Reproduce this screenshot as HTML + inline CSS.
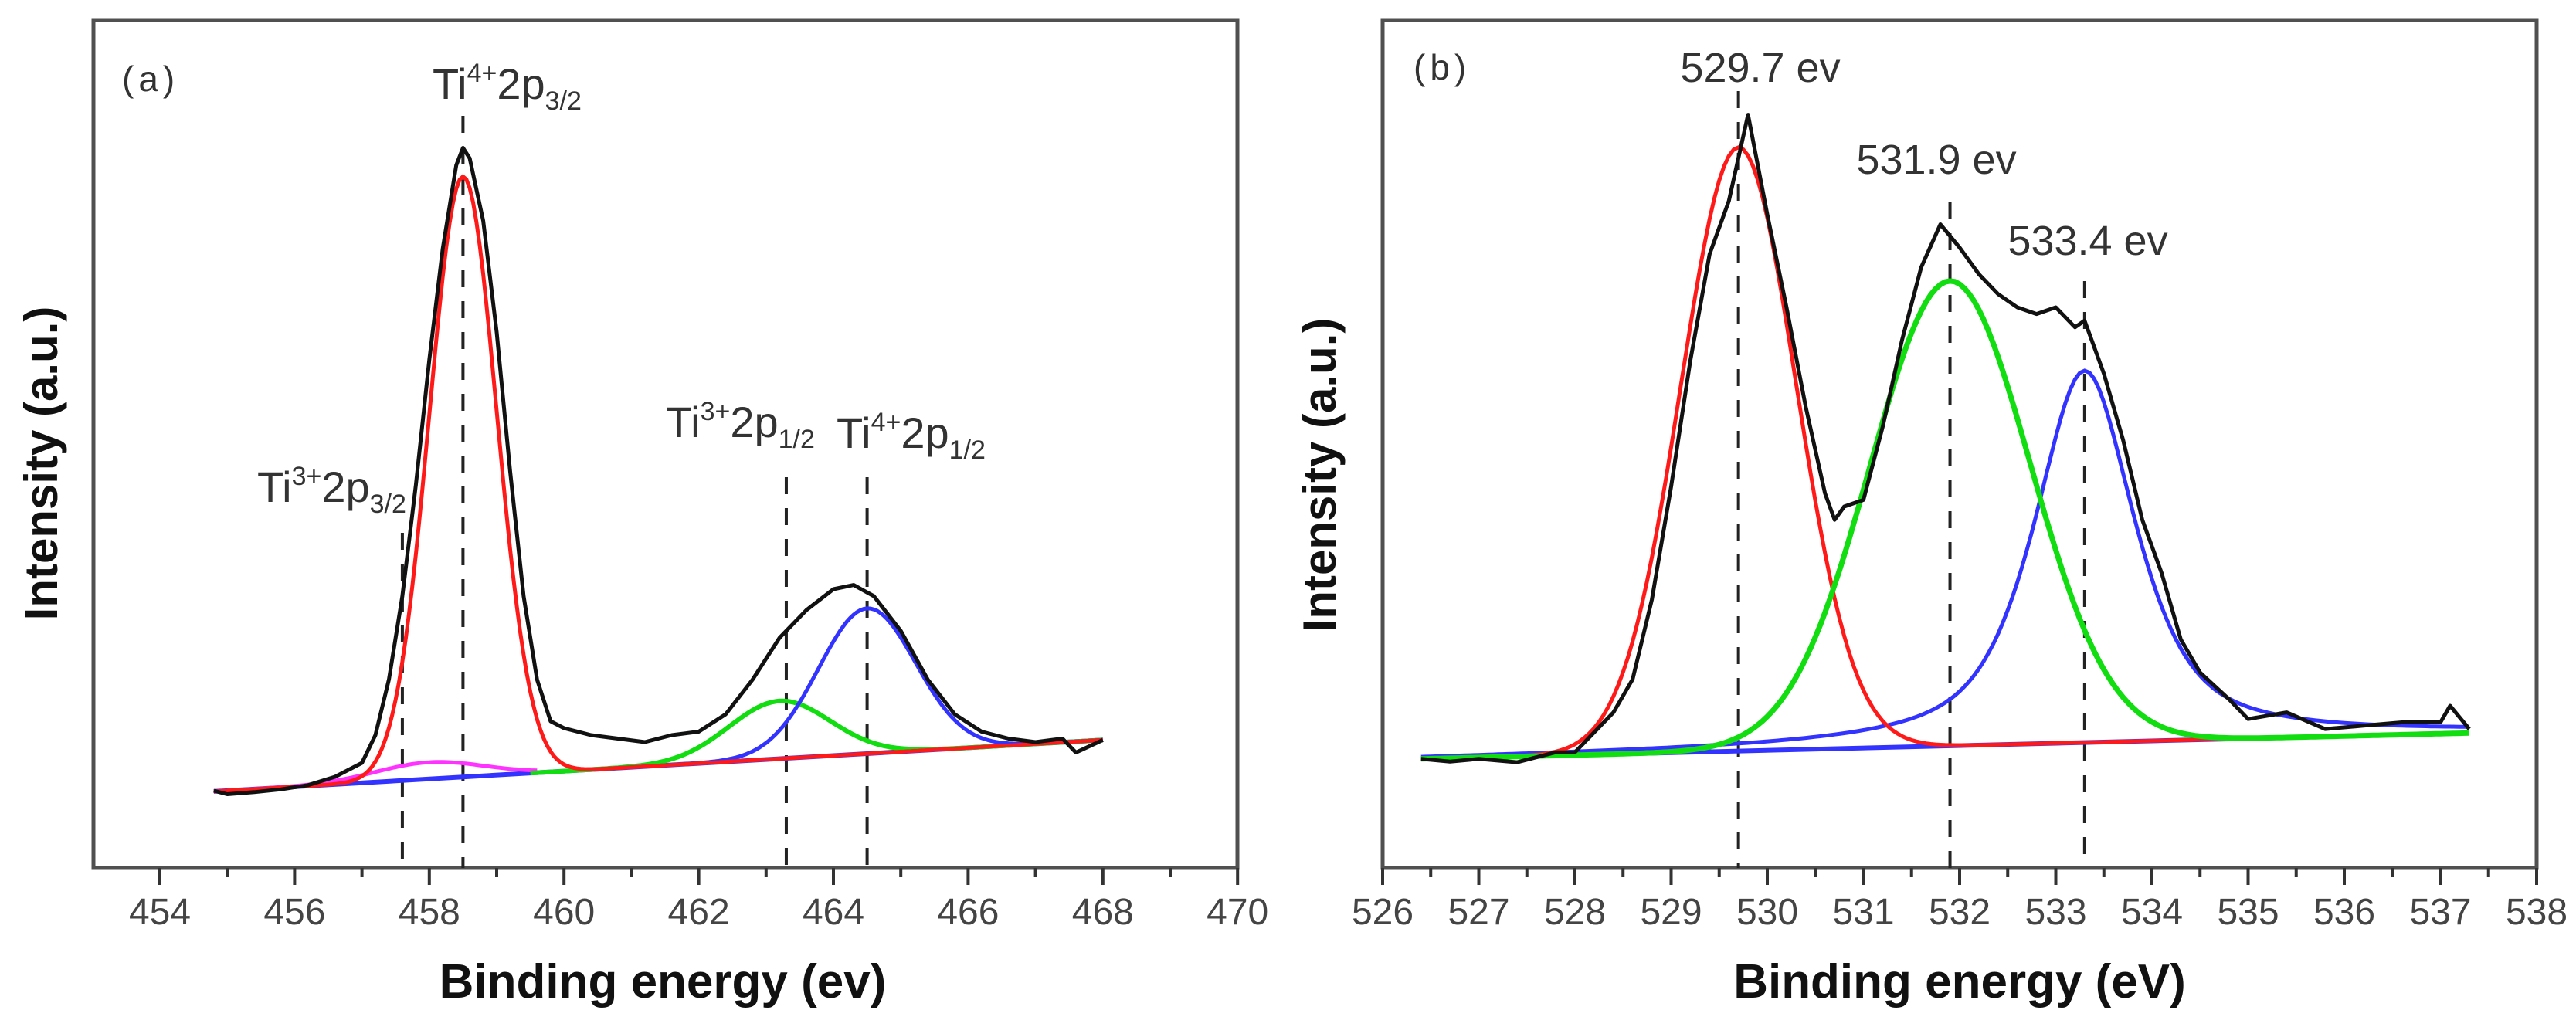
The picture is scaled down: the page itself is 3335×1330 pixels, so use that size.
<!DOCTYPE html>
<html><head><meta charset="utf-8"><style>
html,body{margin:0;padding:0;background:#fff;}
svg{display:block;font-family:"Liberation Sans",Arial,sans-serif;}
</style></head><body>
<svg id="fig" width="3335" height="1330" viewBox="0 0 3335 1330" xmlns="http://www.w3.org/2000/svg"></svg>
<script>
// ---------- Panel (a) data: Ti 2p ----------
const aTicks = [454,456,458,460,462,464,466,468,470];
const aBlackE = [454.8,455.0,455.4,455.8,456.2,456.6,457.0,457.2,457.4,457.6,457.8,458.0,458.2,458.4,458.5,458.6,458.8,459.0,459.2,459.4,459.6,459.8,460.0,460.4,460.8,461.2,461.6,462.0,462.4,462.8,463.0,463.2,463.6,464.0,464.3,464.6,465.0,465.4,465.8,466.2,466.6,467.0,467.4,467.6,468.0];
const aBlackI = [4,3.5,3.8,4.2,4.8,6,8,12,20,32,48,66,82,94,96.5,95,86,70,50,32,20,14,13,12,11.5,11,12,12.5,15,20,23,26,30,33,33.6,32,27,20,15,12.5,11.5,11,11.5,9.5,11.3];
const aBgStart = [454.8,3.9];
const aBgEnd = [468.0,11.3];
const aPeakCenters = [458.5,458.0,463.2,464.5];
const aPeakHeights = [86.4,2.4,8.3,20.9];
const aPeakSigmas  = [0.5,0.8,0.75,0.72];
const aPeakColors  = ["#ff1a1a","#ff33ff","#11dd11","#3333ff"];
const aPeakRanges  = [[454.8,468],[454.8,459.6],[459.5,468],[460.5,468]];
const aMarkers = [457.6,458.5,463.3,464.5];
const aMarkerTops = [690,150,618,618];

// ---------- Panel (b) data: O 1s ----------
const bTicks = [526,527,528,529,530,531,532,533,534,535,536,537,538];
const bBlackE = [526.4,526.7,527.0,527.4,527.8,528.0,528.2,528.4,528.6,528.8,529.0,529.2,529.4,529.6,529.8,530.0,530.2,530.4,530.6,530.7,530.8,531.0,531.2,531.4,531.6,531.8,532.0,532.2,532.4,532.6,532.8,533.0,533.2,533.3,533.5,533.7,533.9,534.1,534.3,534.5,534.8,535.0,535.4,535.8,536.2,536.6,537.0,537.1,537.3];
const bBlackI = [2,1.6,2,1.5,3,3,6,9,14,26,43,62,78,86,99,84,70,55,42,38,40,41,52,65,76,82.5,79,75,72,70,69,70,67,68,60,50,38,30,20,15,11,8,9,6.5,7,7.5,7.5,10,6.5];
const bBgStart = [526.4,2];
const bBgEnd = [537.3,5.9];
const bPeakCenters = [529.7,531.9,533.3];
const bPeakHeights = [90.9,70,56];
const bPeakSigmas  = [0.6,0.83,0.53];
const bPeakLorentz = [0,0,0.7];
const bPeakColors  = ["#ff1a1a","#11dd11","#3333ff"];
const bMarkers = [529.7,531.9,533.3];
const bMarkerTops = [118,262,364];
const bLabels = ["529.7 ev","531.9 ev","533.4 ev"];
const bLabelPos = [[2279,106],[2507,225],[2703,330]];

const NS="http://www.w3.org/2000/svg";
const svg=document.getElementById('fig');
function el(tag,attrs,parent,text){const e=document.createElementNS(NS,tag);for(const k in attrs)e.setAttribute(k,attrs[k]);if(text!==undefined)e.textContent=text;(parent||svg).appendChild(e);return e;}

const AXY=1124;
const xa=e=>207+87.2*(e-454);
const ya=i=>1060-9*i;
const xb=e=>1790+124.5*(e-526);
const yb=i=>1000-8.6*i;

function bg(s,e0,e){return s[0][1]+(s[1][1]-s[0][1])*(e-s[0][0])/(s[1][0]-s[0][0]);}
function pathFrom(xs,ys,xf,yf){let d='';for(let i=0;i<xs.length;i++){d+=(i?'L':'M')+xf(xs[i]).toFixed(1)+' '+yf(ys[i]).toFixed(1);}return d;}

function frame(g,x0,x1,name){
  const r=el('rect',{x:x0,y:26,width:x1-x0,height:AXY-26,fill:'none',stroke:'#505050','stroke-width':5},g);
  
  
}
function ticks(g,vals,xf,minorStep,lo,hi,name){
  for(const v of vals){
    const t=el('line',{x1:xf(v),x2:xf(v),y1:AXY,y2:AXY+22,stroke:'#333','stroke-width':4},g);
    
    
    const l=el('text',{x:xf(v),y:1197,'text-anchor':'middle','font-size':48,fill:'#444'},g,String(v));
    
    
  }
  for(let v=lo+minorStep;v<hi;v+=minorStep*2){
    const t=el('line',{x1:xf(v),x2:xf(v),y1:AXY,y2:AXY+12,stroke:'#333','stroke-width':4},g);
    
    
  }
}

// ---------- Panel a ----------
const ga=el('g',{});


frame(ga,121,1602,'panel-a');
ticks(ga,aTicks,xa,1,454,470,'x-axis-a');
const aBgS=[aBgStart,aBgEnd];
aMarkers.forEach((m,i)=>{
  const l=el('line',{x1:xa(m),x2:xa(m),y1:aMarkerTops[i],y2:AXY,stroke:'#222','stroke-width':4,'stroke-dasharray':'22 18'},ga);
  
  
});
{const es=[aBgStart[0],aBgEnd[0]];const p=el('path',{d:pathFrom(es,es.map(e=>bg(aBgS,0,e)),xa,ya),stroke:'#3333ff','stroke-width':6,fill:'none'},ga);

}
[1,2,3,0].forEach(k=>{
  const es=[],is=[];
  for(let e=aPeakRanges[k][0];e<=aPeakRanges[k][1]+1e-9;e+=0.05){
    es.push(e);is.push(bg(aBgS,0,e)+aPeakHeights[k]*Math.exp(-Math.pow(e-aPeakCenters[k],2)/(2*aPeakSigmas[k]*aPeakSigmas[k])));
  }
  const p=el('path',{d:pathFrom(es,is,xa,ya),stroke:aPeakColors[k],'stroke-width':k===2?6:5,fill:'none'},ga);
  
  
});
{const p=el('path',{d:pathFrom(aBlackE,aBlackI,xa,ya),stroke:'#111','stroke-width':5,fill:'none','stroke-linejoin':'round'},ga);

}

function tiLabel(g,x,y,sup,sub,name){
  const t=el('text',{x:x,y:y,'font-size':56,fill:'#333'},g);
  
  
  el('tspan',{},t,'Ti');
  el('tspan',{'font-size':34,dy:-22},t,sup);
  el('tspan',{dy:22},t,'2p');
  el('tspan',{'font-size':34,dy:14},t,sub);
}
tiLabel(ga,333,650,'3+','3/2','label-ti3-2p32');
tiLabel(ga,560,128,'4+','3/2','label-ti4-2p32');
tiLabel(ga,862,566,'3+','1/2','label-ti3-2p12');
tiLabel(ga,1083,580,'4+','1/2','label-ti4-2p12');
{const t=el('text',{x:158,y:118,'font-size':46,fill:'#333','letter-spacing':6},ga,'(a)');

}
{const t=el('text',{x:858,y:1292,'font-size':62,'font-weight':'bold','text-anchor':'middle',fill:'#111'},ga,'Binding energy (ev)');

}
{const t=el('text',{x:0,y:0,'font-size':60,'font-weight':'bold','text-anchor':'middle',fill:'#111',transform:'translate(74,600) rotate(-90)'},ga,'Intensity (a.u.)');

}

// ---------- Panel b ----------
const gb=el('g',{});


frame(gb,1790,3284,'panel-b');
ticks(gb,bTicks,xb,0.5,526,538,'x-axis-b');
const bBgS=[bBgStart,bBgEnd];
bMarkers.forEach((m,i)=>{
  const l=el('line',{x1:xb(m),x2:xb(m),y1:bMarkerTops[i],y2:AXY,stroke:'#222','stroke-width':4,'stroke-dasharray':'22 18'},gb);
  
  
});
{const es=[bBgStart[0],bBgEnd[0]];const p=el('path',{d:pathFrom(es,es.map(e=>bg(bBgS,0,e)),xb,yb),stroke:'#3333ff','stroke-width':6,fill:'none'},gb);

}
[2,0,1].forEach(k=>{
  const es=[],is=[];
  const s=bPeakSigmas[k],gam=s*1.177,m=bPeakLorentz[k];
  for(let e=bBgStart[0];e<=bBgEnd[0]+1e-9;e+=0.05){
    const dx=e-bPeakCenters[k];
    const shape=(1-m)*Math.exp(-dx*dx/(2*s*s))+m/(1+dx*dx/(gam*gam));
    es.push(e);is.push(bg(bBgS,0,e)+bPeakHeights[k]*shape);
  }
  const p=el('path',{d:pathFrom(es,is,xb,yb),stroke:bPeakColors[k],'stroke-width':k===1?7:5,fill:'none'},gb);
  
  
});
{const p=el('path',{d:pathFrom(bBlackE,bBlackI,xb,yb),stroke:'#111','stroke-width':5,fill:'none','stroke-linejoin':'round'},gb);

}
bLabels.forEach((s,i)=>{
  const t=el('text',{x:bLabelPos[i][0],y:bLabelPos[i][1],'font-size':54,'text-anchor':'middle',fill:'#333'},gb,s);
  
  
});
{const t=el('text',{x:1830,y:103,'font-size':46,fill:'#333','letter-spacing':6},gb,'(b)');

}
{const t=el('text',{x:2537,y:1292,'font-size':62,'font-weight':'bold','text-anchor':'middle',fill:'#111'},gb,'Binding energy (eV)');

}
{const t=el('text',{x:0,y:0,'font-size':60,'font-weight':'bold','text-anchor':'middle',fill:'#111',transform:'translate(1729,615) rotate(-90)'},gb,'Intensity (a.u.)');

}
</script>
</body></html>
